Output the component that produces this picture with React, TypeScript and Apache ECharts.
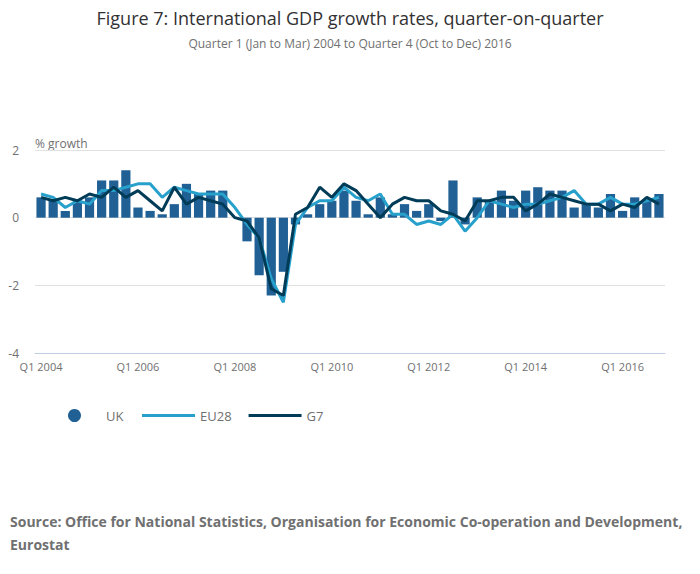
import React, { useEffect, useRef } from "react";
import * as echarts from "echarts";

const quarters: string[] = [];
for (let y = 2004; y <= 2016; y++) {
  for (let q = 1; q <= 4; q++) quarters.push(`Q${q} ${y}`);
}

const ukValues = [
  0.6, 0.5, 0.2, 0.5, 0.6, 1.1, 1.1, 1.4, 0.3, 0.2, 0.1, 0.4, 1.0, 0.7, 0.8, 0.8,
  0.0, -0.7, -1.7, -2.3, -1.6, -0.2, 0.1, 0.4, 0.5, 0.8, 0.5, 0.1, 0.6, 0.1, 0.4, 0.2,
  0.4, -0.1, 1.1, -0.2, 0.6, 0.5, 0.8, 0.5, 0.8, 0.9, 0.8, 0.8, 0.3, 0.4, 0.3, 0.7,
  0.2, 0.6, 0.5, 0.7,
];

const eu28Values = [
  0.7, 0.6, 0.3, 0.5, 0.4, 0.8, 0.8, 0.9, 1.0, 1.0, 0.6, 0.9, 0.8, 0.7, 0.7, 0.7,
  0.3, -0.2, -0.6, -1.8, -2.5, -0.2, 0.3, 0.5, 0.5, 0.9, 0.6, 0.5, 0.7, 0.1, 0.1, -0.2,
  -0.1, -0.2, 0.1, -0.4, 0.0, 0.5, 0.4, 0.3, 0.4, 0.4, 0.5, 0.6, 0.8, 0.4, 0.4, 0.6,
  0.4, 0.4, 0.5, 0.6,
];

const g7Values = [
  0.6, 0.5, 0.6, 0.5, 0.7, 0.6, 0.9, 0.6, 0.8, 0.5, 0.2, 0.9, 0.4, 0.6, 0.5, 0.4,
  0.0, -0.1, -0.6, -2.1, -2.3, 0.1, 0.3, 0.9, 0.6, 1.0, 0.8, 0.4, 0.0, 0.4, 0.6, 0.5,
  0.5, 0.2, 0.1, -0.1, 0.5, 0.5, 0.6, 0.6, 0.2, 0.4, 0.7, 0.6, 0.5, 0.4, 0.4, 0.2,
  0.4, 0.3, 0.6, 0.4,
];

const titleText = "Figure 7: International GDP growth rates, quarter-on-quarter";
const subtitleText = "Quarter 1 (Jan to Mar) 2004 to Quarter 4 (Oct to Dec) 2016";
const unitText = "% growth";
const sourceText =
  "Source: Office for National Statistics, Organisation for Economic Co-operation and Development,\nEurostat";

const FONT = "'Open Sans', sans-serif";
const legendText = { fontFamily: FONT, fontSize: 13, color: "#707071" };

export default function App() {
  const ref = useRef<HTMLDivElement>(null);
  useEffect(() => {
    if (!ref.current) return;
    const chart = echarts.init(ref.current, null, { renderer: "svg" });
    chart.setOption({
      animation: false,
      backgroundColor: "#ffffff",
      textStyle: { fontFamily: FONT },
      title: {
        text: titleText,
        subtext: subtitleText,
        left: "center",
        top: 4,
        itemGap: 10,
        textStyle: { fontFamily: FONT, fontSize: 18, fontWeight: "normal", color: "#323132" },
        subtextStyle: { fontFamily: FONT, fontSize: 12, color: "#707071" },
      },
      legend: [
        {
          left: 63,
          top: 404,
          itemWidth: 53,
          itemHeight: 13,
          textStyle: legendText,
          data: [{ name: "UK", icon: "circle" }],
        },
        {
          left: 137,
          top: 404,
          itemWidth: 53,
          itemHeight: 3,
          itemGap: 17,
          icon: "rect",
          textStyle: legendText,
          data: [{ name: "EU28" }, { name: "G7" }],
        },
      ],
      grid: { left: 35, right: 35, top: 150, bottom: 221, containLabel: false },
      xAxis: {
        type: "category",
        data: quarters,
        boundaryGap: true,
        axisLine: { onZero: false, lineStyle: { color: "#bfd0e3", width: 1 } },
        axisTick: { interval: 7, alignWithLabel: true, length: 6, lineStyle: { color: "#bfd0e3" } },
        axisLabel: { interval: 7, color: "#707071", fontSize: 11, margin: 8, fontFamily: FONT },
        splitLine: { show: false },
      },
      yAxis: {
        type: "value",
        min: -4,
        max: 2,
        interval: 2,
        axisLine: { show: false },
        axisTick: { show: false },
        axisLabel: { color: "#707071", fontSize: 12, margin: 16, fontFamily: FONT },
        splitLine: { lineStyle: { color: "#e2e2e2", width: 1 } },
      },
      graphic: [
        {
          type: "text",
          left: 35,
          top: 137,
          style: { text: unitText, fill: "#707071", font: `12px ${FONT}` },
        },
        {
          type: "text",
          left: 10,
          top: 510,
          style: {
            text: sourceText,
            fill: "#707071",
            font: `bold 14px ${FONT}`,
            lineHeight: 23,
          },
        },
      ],
      series: [
        {
          name: "UK",
          type: "bar",
          data: ukValues,
          barCategoryGap: "24%",
          itemStyle: { color: "#206095" },
        },
        {
          name: "EU28",
          type: "line",
          data: eu28Values,
          symbol: "none",
          showSymbol: false,
          lineStyle: { color: "#27a0cc", width: 3 },
          itemStyle: { color: "#27a0cc" },
        },
        {
          name: "G7",
          type: "line",
          data: g7Values,
          symbol: "none",
          showSymbol: false,
          lineStyle: { color: "#003c57", width: 3 },
          itemStyle: { color: "#003c57" },
        },
      ],
    });
    return () => chart.dispose();
  }, []);
  return (
    <div
      ref={ref}
      style={{ position: "absolute", left: 0, top: 0, width: 700, height: 574 }}
    />
  );
}
